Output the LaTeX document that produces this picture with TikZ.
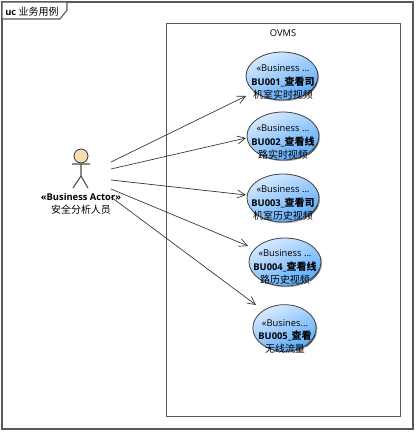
\documentclass[tikz,border=0pt]{standalone}
\usepackage{fontspec}
\setmainfont{Open Sans}
\newfontfamily\cjk[Scale=1.07]{Noto Sans CJK SC}
\definecolor{caselight}{HTML}{D8EAFF}
\definecolor{casedark}{HTML}{58AAFA}
\definecolor{headfill}{HTML}{F8DDB0}
\usetikzlibrary{arrows.meta,shapes.geometric,shadows}

\begin{document}
\begin{tikzpicture}[
    x=0.75pt, y=-0.75pt,
    usecase/.style={ellipse, draw=black!75, line width=0.6pt, top color=caselight, bottom color=casedark, shading angle=25,
        drop shadow={shadow xshift=0.9pt, shadow yshift=-0.9pt, opacity=0.45, fill=black!70},
        minimum width=54pt, minimum height=36pt, inner sep=0pt},
    casetext/.style={inner sep=0pt, align=center},
    frameline/.style={draw=black!65, line width=0.8pt},
    assoc/.style={draw=black!80, line width=0.5pt, -{Straight Barb[length=6pt, width=6pt]}},
    font=\fontsize{7}{10.1}\selectfont
]
    \useasboundingbox (0,0) rectangle (416,432);

    % outer frame
    \draw[frameline] (2,2) rectangle (413,429);
    \path[frameline, fill=white] (2,2) -- (67,2) -- (67,10) -- (60,19) -- (2,19) -- cycle;
    \node[anchor=west, inner sep=0pt] (title) at (5,12) {\textbf{uc} {\cjk 业务用例}};

    % boundary
    \node[frameline, minimum width=175.5pt, minimum height=294.75pt, inner sep=0pt, anchor=north west] (OVMS) at (166,23) {};
    \node[inner sep=0pt] (OVMSlabel) at (283,33) {OVMS};

    % actor
    \node[circle, draw=black!80, line width=0.6pt, fill=headfill, minimum size=10.5pt, inner sep=0pt] (head) at (81,156) {};
    \coordinate (hip) at (81,176);
    \coordinate (armL) at (72,164);
    \coordinate (armR) at (90,164);
    \coordinate (footL) at (73,188);
    \coordinate (footR) at (88,188);
    \draw[draw=black!70, line width=0.8pt] (head) -- (hip) (armL) -- (armR) (hip) -- (footL) (hip) -- (footR);
    \node[casetext] (actor) at (81,204) {\textbf{«Business Actor»}\\{\cjk 安全分析人员}};
    \coordinate (actorA) at (111,162);
    \coordinate (actorB) at (111,169);
    \coordinate (actorC) at (111,180);
    \coordinate (actorD) at (111,189);
    \coordinate (actorE) at (111,197);

    % use cases
    \node[usecase] (BU1) at (282,76) {};
    \node[usecase] (BU2) at (283,136) {};
    \node[usecase] (BU3) at (283,198) {};
    \node[usecase] (BU4) at (285,262) {};
    \node[usecase, minimum width=47.5pt, minimum height=35pt] (BU5) at (284.5,328) {};
    \foreach \n/\dx in {BU1/0,BU2/0,BU3/0,BU4/0,BU5/-4}
        \draw[black!80, line width=0.5pt, shift={(\n.center)}] (25+\dx,19) to[bend right=15] (35+\dx,7);
    \node[casetext] (BU1text) at (283,82) {«Business ...\\\textbf{BU001\_{\cjk 查看司}}\\{\cjk 机室实时视频}};
    \node[casetext] (BU2text) at (283,142) {«Business ...\\\textbf{BU002\_{\cjk 查看线}}\\{\cjk 路实时视频}};
    \node[casetext] (BU3text) at (283,203) {«Business ...\\\textbf{BU003\_{\cjk 查看司}}\\{\cjk 机室历史视频}};
    \node[casetext] (BU4text) at (285,267) {«Business ...\\\textbf{BU004\_{\cjk 查看线}}\\{\cjk 路历史视频}};
    \node[casetext] (BU5text) at (285,336.5) {«Busines...\\\textbf{BU005\_{\cjk 查看}}\\{\cjk 无线流量}};

    % associations
    \coordinate (endA) at (246,96);
    \coordinate (endB) at (246,138);
    \coordinate (endC) at (246,195);
    \coordinate (endD) at (248,246);
    \coordinate (endE) at (256,305);
    \draw[assoc] (actorA) -- (endA);
    \draw[assoc] (actorB) -- (endB);
    \draw[assoc] (actorC) -- (endC);
    \draw[assoc] (actorD) -- (endD);
    \draw[assoc] (actorE) -- (endE);
\end{tikzpicture}
\end{document}
